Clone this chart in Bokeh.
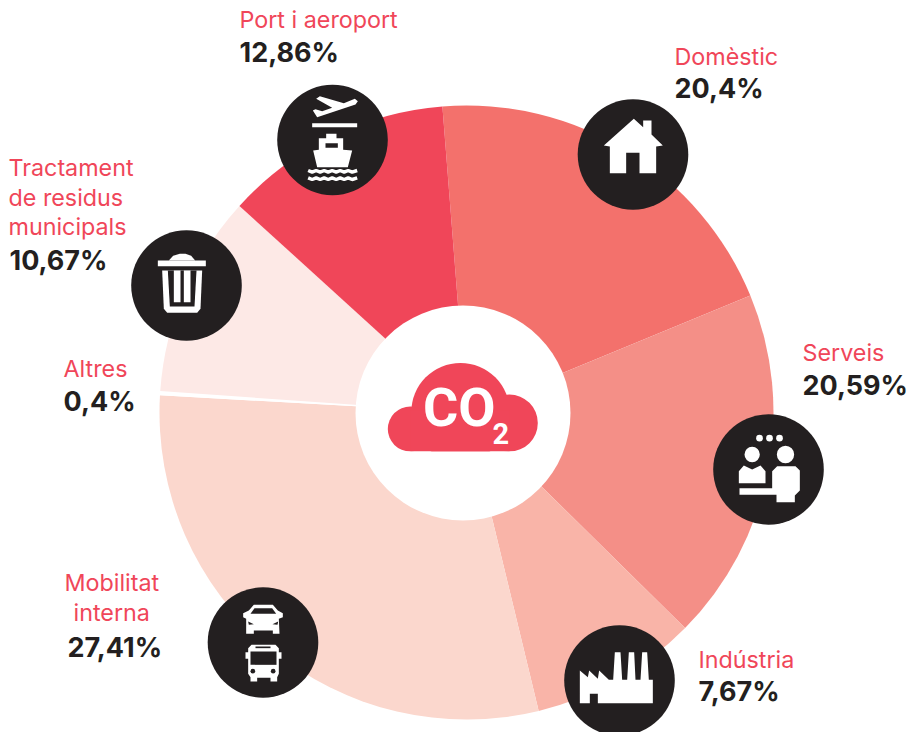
import numpy as np
from bokeh.embed import file_html
from bokeh.models import ColumnDataSource, Range1d
from bokeh.plotting import figure
from bokeh.resources import INLINE
from bokeh.core.properties import value

# ---- data ----
names = ["Domèstic", "Serveis", "Indústria", "Mobilitat interna", "Altres", "Tractament de residus municipals", "Port i aeroport"]
shares = [20.4, 20.59, 7.67, 27.41, 0.4, 10.67, 12.86]           # printed percentages
drawn_degrees = [72.1, 67.0, 31.8, 106.8, 0.8, 38.3, 43.2]        # angular size of the drawn slices
colors = ["#F3716C", "#F48F87", "#F9B4A8", "#FBD7CD", "#FFFFFF", "#FDE9E6", "#F04659"]
first_edge_deg = 355.5                                            # clockwise from the top

label_lines = [["Domèstic"], ["Serveis"], ["Indústria"], ["Mobilitat", "interna"], ["Altres"],
               ["Tractament", "de residus", "municipals"], ["Port i aeroport"]]
label_x = [674, 802, 698, 64, 63, 8, 239]
label_y = [56, 352, 659, 582, 368, 167, 19]
value_x = [674, 802, 698, 67, 63, 9, 239]
value_y = [88, 385, 691, 647, 401, 260, 52]
line_step = 29.5
line_x_extra = {(3, 1): 9}

badge_x = [632.5, 768, 619, 262.5, 186, 332]
badge_y = [154, 469, 680, 642, 285, 139.5]

RED = "#F04659"
DARK = "#231F20"
FONT = "Inter"

p = figure(width=915, height=732, output_backend="svg", toolbar_location=None,
           x_range=Range1d(0, 915), y_range=Range1d(732, 0), min_border=0, outline_line_color=None)
p.axis.visible = False
p.grid.visible = False
p.background_fill_color = "white"

# ---- pie ----
edges = first_edge_deg + np.concatenate([[0], np.cumsum(drawn_degrees)])
src = ColumnDataSource(dict(
    x=[466] * len(names), y=[412] * len(names),
    start=np.radians(90 - edges[:-1]), end=np.radians(90 - edges[1:]),
    color=colors))
p.wedge("x", "y", radius=307, start_angle="start", end_angle="end", direction="clock",
        fill_color="color", line_color=None, source=src)
p.circle([462.5], [412.5], radius=107.5, fill_color="white", line_color=None)

# ---- cloud ----
p.circle([460, 409.8, 508.8], [411.6, 428.5, 422.5], radius=[49.2, 22.5, 28.5], fill_color=RED, line_color=None)
p.quad(left=[410], right=[509], top=[410], bottom=[451], fill_color=RED, line_color=None)
p.quad(left=[405], right=[515], top=[451], bottom=[465], fill_color="white", line_color=None)
p.text([422.5], [406.5], text=["CO"], text_font=value("Roboto"), text_font_size="54px", text_font_style="bold",
       text_color="white", text_baseline="alphabetic")
p.text([492], [432.5], text=["2"], text_font=value("Roboto"), text_font_size="29px", text_font_style="bold",
       text_color="white", text_baseline="alphabetic")

# ---- badges ----
p.circle(badge_x, badge_y, radius=55.3, fill_color=DARK, line_color=None)

def shape(points, origin, color="white"):
    xs = [origin[0] + a / 3 for a, b in points]
    ys = [origin[1] + b / 3 for a, b in points]
    p.patch(xs, ys, fill_color=color, line_color=None)

def dots(points, origin, r, color="white"):
    p.circle([origin[0] + a / 3 for a, b in points], [origin[1] + b / 3 for a, b in points],
             radius=r / 3, fill_color=color, line_color=None)

def rect(x0, y0, x1, y1, origin, color="white"):
    shape([(x0, y0), (x1, y0), (x1, y1), (x0, y1)], origin, color)

# plane and ship
o = (260, 70)
shape([(157, 120), (165, 116), (185, 122), (215, 112), (167, 85), (178, 77), (250, 98), (283, 85), (292, 92),
       (285, 102), (170, 140)], o)
rect(155, 158, 290, 170, o)
shape([(197, 190), (228, 190), (228, 203), (248, 203), (248, 238), (275, 240), (262, 290), (170, 290),
       (158, 240), (175, 238), (175, 203), (197, 203)], o)
rect(195, 218, 232, 232, o, DARK)
for wy in (300, 322):
    wx = [143, 155, 167, 179, 191, 203, 215, 227, 239, 251, 263, 275, 290]
    wv = [wy, wy + 5, wy, wy + 5, wy, wy + 5, wy, wy + 5, wy, wy + 5, wy, wy + 5, wy]
    p.line([o[0] + a / 3 for a in wx], [o[1] + b / 3 for b in wv], line_color="white", line_width=3.5)

# house
o = (565, 90)
shape([(115, 165), (205, 85), (233, 110), (233, 90), (258, 90), (258, 132), (292, 165), (272, 168), (272, 248),
       (222, 248), (222, 187), (182, 187), (182, 248), (133, 248), (133, 168)], o)

# people at a desk
o = (700, 400)
dots([(177, 113), (207, 113), (237, 113)], o, 10)
dots([(155, 162)], o, 23)
dots([(255, 162)], o, 26)
shape([(115, 212), (130, 195), (155, 207), (180, 195), (195, 212), (195, 248), (115, 248)], o)
shape([(215, 212), (230, 197), (285, 197), (298, 210), (298, 270), (283, 285), (283, 305), (228, 305),
       (228, 283), (117, 283), (117, 263), (215, 263)], o)

# factory
o = (550, 610)
shape([(88, 180), (112, 200), (116, 180), (142, 205), (146, 180), (175, 208), (188, 208), (193, 125), (210, 125),
       (215, 208), (230, 208), (235, 125), (251, 125), (255, 208), (270, 208), (275, 125), (290, 125), (295, 208),
       (307, 208), (307, 278), (142, 278), (142, 250), (118, 250), (118, 278), (88, 278)], o)

# car and bus
o = (195, 575)
shape([(160, 105), (175, 88), (232, 88), (247, 105), (262, 113), (262, 125), (250, 130), (252, 175), (232, 175),
       (232, 165), (175, 165), (175, 175), (152, 175), (152, 130), (143, 125), (143, 113)], o)
shape([(177, 98), (230, 98), (242, 115), (165, 115)], o, DARK)
shape([(158, 138), (175, 146), (160, 148)], o, DARK)
shape([(248, 138), (231, 146), (246, 148)], o, DARK)
shape([(168, 208), (240, 208), (250, 218), (250, 295), (245, 305), (245, 318), (225, 318), (225, 307), (185, 307),
       (185, 318), (165, 318), (165, 305), (158, 295), (158, 218)], o)
rect(150, 230, 258, 250, o)
rect(165, 228, 243, 268, o, DARK)
rect(180, 213, 225, 218, o, DARK)
dots([(172, 287), (233, 287)], o, 7, DARK)

# bin
o = (120, 220)
shape([(145, 120), (158, 106), (178, 100), (195, 100), (212, 106), (224, 120)], o)
rect(112, 120, 256, 137, o)
shape([(125, 150), (245, 150), (240, 265), (230, 277), (140, 277), (130, 265)], o)
shape([(142, 150), (228, 150), (222, 258), (148, 258)], o, DARK)
rect(160, 150, 180, 245, o)
rect(190, 150, 210, 245, o)

# ---- labels ----
lx, ly, lt = [], [], []
for i, lines in enumerate(label_lines):
    for j, line in enumerate(lines):
        lx.append(label_x[i] + line_x_extra.get((i, j), 0))
        ly.append(label_y[i] + j * line_step)
        lt.append(line)
p.text(lx, ly, text=lt, text_font=value(FONT), text_font_size="23.3px", text_color=RED, text_baseline="alphabetic")
p.text(value_x, value_y, text=[f"{v}%".replace(".", ",") for v in shares], text_font=value(FONT),
       text_font_size="27px", text_font_style="bold", text_color=DARK, text_baseline="alphabetic")

open("out.html", "w").write(file_html(p, INLINE))
